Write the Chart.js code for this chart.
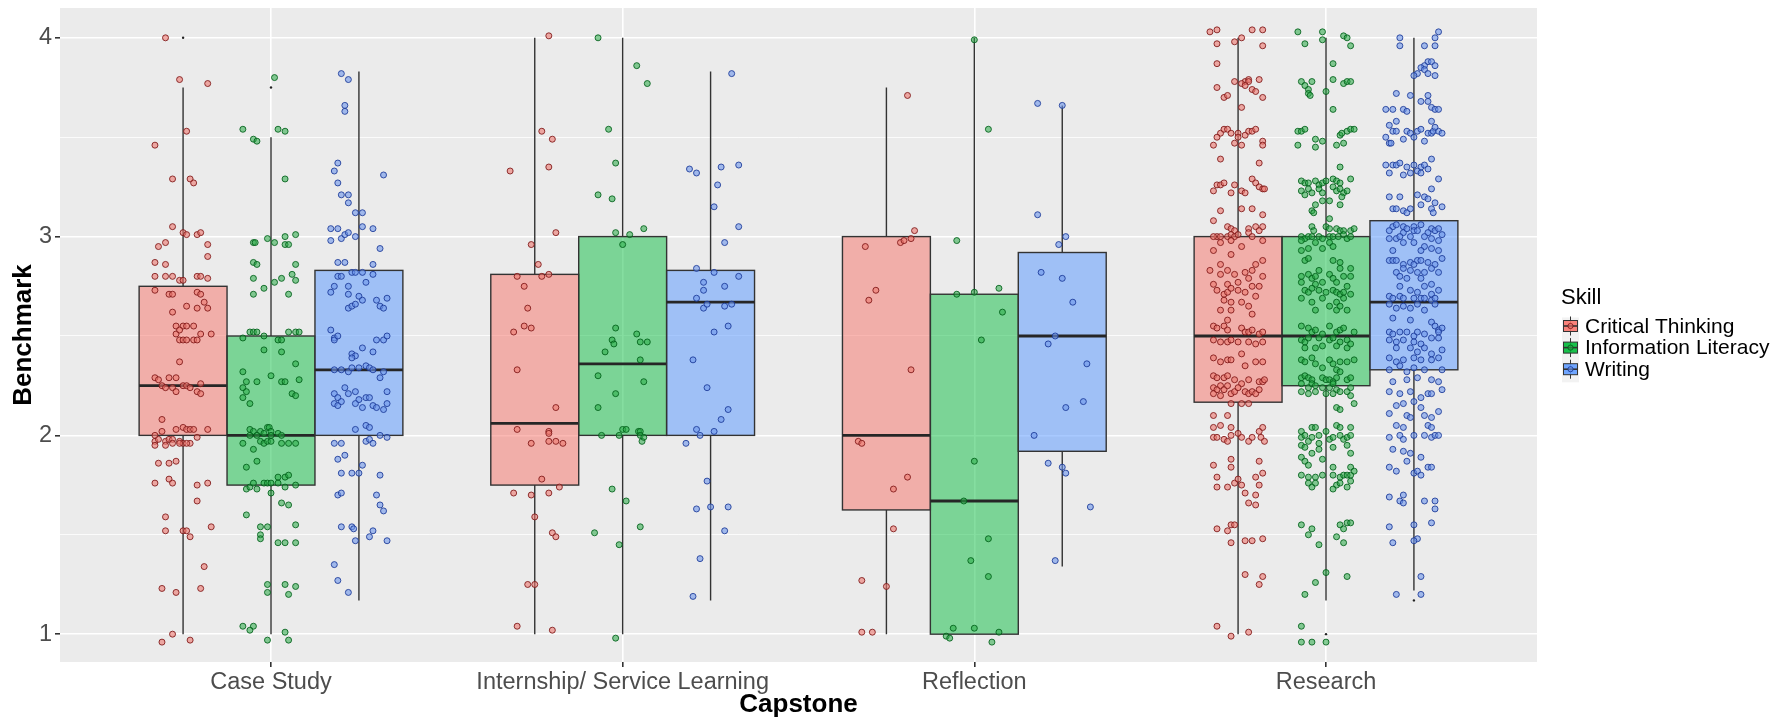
<!DOCTYPE html>
<html>
<head>
<meta charset="utf-8">
<script src="https://cdn.jsdelivr.net/npm/chart.js@4.4.1/dist/chart.umd.min.js"></script>
<style>
  html, body { margin: 0; padding: 0; background: #ffffff; }
  #wrap { width: 1785px; height: 717px; position: relative; }
</style>
</head>
<body>
<div id="wrap"><canvas id="chart" width="1785" height="717"></canvas></div>
<script>
// ---- categories, groups, ticks ----
const categories = ['Case Study', 'Internship/ Service Learning', 'Reflection', 'Research'];
const skills = ['Critical Thinking', 'Information Literacy', 'Writing'];
const yTicks = [1, 2, 3, 4];
const yMinorTicks = [1.5, 2.5, 3.5];

// box summaries per capstone: [lower whisker, Q1, median, Q3, upper whisker]
const ctBox = [[1, 2, 2.25, 2.75, 3.75], [1, 1.75, 2.06, 2.81, 4], [1, 1.625, 2, 3, 3.75], [1, 2.167, 2.5, 3, 4]];
const ilBox = [[1, 1.75, 2, 2.5, 3.5], [1, 2, 2.36, 3, 4], [1, 1, 1.67, 2.71, 4], [1.17, 2.25, 2.5, 3, 4]];
const wrBox = [[1.17, 2, 2.33, 2.83, 3.83], [1.17, 2, 2.67, 2.83, 3.83], [1.34, 1.92, 2.5, 2.92, 3.66], [1.22, 2.33, 2.67, 3.08, 4]];

// boxplot outliers per capstone
const ctOutliers = [[4], [], [], []];
const ilOutliers = [[3.75], [], [], [1]];
const wrOutliers = [[], [], [], [1.17]];

// individual scores: [horizontal jitter, benchmark]
const ctCaseStudy = [[-0.05,4.00],[-0.01,3.79],[0.07,3.77],[0.01,3.53],[-0.08,3.46],[-0.03,3.29],[0.02,3.29],[0.03,3.27],[-0.03,3.05],[0,3.02],[0.01,3.01],[0.04,3.01],[0.05,3.02],[0.07,2.96],[-0.05,2.97],[-0.07,2.95],[0.07,2.90],[-0.08,2.87],[-0.05,2.86],[-0.08,2.80],[-0.05,2.80],[-0.03,2.80],[-0.01,2.78],[0,2.78],[0.04,2.80],[0.05,2.80],[0.07,2.79],[-0.08,2.73],[-0.04,2.71],[-0.03,2.71],[0.04,2.72],[0.05,2.71],[0.06,2.67],[0.01,2.65],[0.04,2.64],[0.07,2.64],[-0.03,2.62],[-0.02,2.55],[0,2.55],[0.01,2.55],[0.03,2.55],[-0.02,2.51],[-0.01,2.53],[0.05,2.51],[0.08,2.51],[-0.01,2.48],[0,2.48],[0.01,2.48],[0.03,2.48],[0.04,2.48],[-0.01,2.37],[-0.08,2.29],[-0.07,2.28],[-0.04,2.29],[-0.02,2.29],[-0.06,2.25],[-0.05,2.24],[-0.03,2.24],[0,2.25],[0.01,2.25],[0.05,2.26],[-0.02,2.22],[0.02,2.24],[0.04,2.22],[0.05,2.21],[-0.06,2.08],[-0.08,2.00],[-0.06,2.02],[-0.02,2.03],[0,2.04],[0.01,2.03],[0.02,2.03],[0.03,2.03],[0.07,2.03],[-0.08,1.97],[-0.07,1.98],[-0.05,1.97],[-0.04,1.98],[-0.03,1.98],[-0.01,1.97],[0,1.96],[0.02,1.96],[0.04,1.99],[-0.08,1.95],[-0.05,1.95],[-0.03,1.96],[-0.01,1.96],[0.01,1.96],[-0.07,1.86],[-0.04,1.86],[-0.02,1.87],[-0.08,1.76],[-0.04,1.78],[-0.03,1.76],[0.04,1.75],[0.07,1.76],[0.04,1.67],[-0.05,1.59],[-0.05,1.52],[0,1.52],[0.01,1.52],[0.02,1.49],[0.08,1.54],[0.06,1.34],[-0.06,1.23],[-0.02,1.21],[0.05,1.23],[-0.03,1.00],[0.02,0.97],[-0.06,0.96]];
const ctInternship = [[0.04,4.01],[0.02,3.53],[0.05,3.49],[-0.07,3.33],[0.04,3.35],[0.06,3.02],[-0.01,2.96],[0.01,2.86],[-0.05,2.80],[0.02,2.80],[0.04,2.81],[-0.03,2.75],[-0.02,2.64],[-0.06,2.52],[-0.03,2.55],[-0.01,2.54],[-0.05,2.33],[0.06,2.14],[-0.05,2.03],[0.04,2.02],[0.04,2.01],[-0.01,1.96],[0.04,1.97],[0.06,1.97],[0.08,1.96],[0.02,1.78],[0.07,1.74],[-0.06,1.71],[-0.01,1.70],[0.04,1.71],[0,1.59],[0.05,1.51],[0.06,1.49],[-0.02,1.25],[0,1.25],[-0.05,1.04],[0.05,1.02]];
const ctReflection = [[0.06,3.71],[0.08,3.03],[0.04,2.97],[0.05,2.98],[0.07,2.99],[-0.06,2.95],[-0.03,2.73],[-0.05,2.68],[0.07,2.33],[-0.08,1.97],[-0.07,1.96],[0.06,1.79],[0.02,1.73],[0.02,1.53],[-0.07,1.27],[0,1.24],[-0.07,1.01],[-0.04,1.01]];
const ctResearch = [[-0.08,4.03],[-0.06,4.04],[0.04,4.04],[0.07,4.04],[-0.06,3.97],[0.07,3.96],[-0.01,3.98],[0.01,4.00],[-0.06,3.87],[-0.06,3.75],[-0.01,3.78],[0.02,3.78],[0.03,3.79],[0.03,3.78],[0.01,3.77],[0.02,3.76],[0.06,3.79],[0.04,3.74],[0.05,3.73],[-0.04,3.70],[-0.03,3.71],[0.07,3.70],[0.01,3.65],[-0.05,3.52],[-0.04,3.54],[-0.03,3.54],[-0.02,3.52],[0,3.52],[0,3.50],[0.02,3.51],[0.03,3.53],[0.04,3.53],[0.05,3.54],[-0.07,3.46],[-0.01,3.47],[0.01,3.46],[0.07,3.48],[0.07,3.46],[-0.06,3.50],[-0.05,3.39],[0.06,3.37],[-0.06,3.26],[-0.05,3.26],[-0.04,3.27],[-0.07,3.23],[-0.01,3.26],[-0.02,3.22],[0.01,3.23],[0.02,3.22],[0.04,3.29],[0.05,3.27],[0.06,3.25],[0.07,3.24],[0.075,3.24],[-0.05,3.13],[0.01,3.14],[0.04,3.14],[-0.07,3.08],[0.07,3.11],[-0.03,3.05],[-0.02,3.04],[-0.01,3.03],[-0.06,3.00],[-0.05,3.00],[-0.03,3.00],[-0.02,3.01],[-0.01,3.00],[0,3.01],[0.03,3.04],[0.05,3.05],[0.06,3.03],[0.07,3.05],[-0.07,3.00],[0.03,3.02],[0.04,3.00],[0.07,2.98],[-0.05,2.97],[-0.02,2.98],[0.01,2.95],[-0.07,2.93],[-0.02,2.91],[-0.05,2.86],[-0.03,2.83],[-0.08,2.83],[-0.05,2.81],[-0.03,2.76],[-0.01,2.81],[0,2.77],[0.02,2.82],[0.03,2.79],[0.04,2.83],[0.07,2.80],[0.07,2.88],[0.05,2.86],[-0.07,2.76],[-0.06,2.73],[-0.04,2.71],[-0.03,2.72],[-0.02,2.74],[0,2.73],[0.02,2.72],[0.04,2.75],[0.05,2.70],[0.06,2.75],[-0.04,2.68],[-0.02,2.67],[-0.05,2.63],[-0.02,2.63],[0.01,2.67],[0.03,2.65],[0.04,2.61],[-0.03,2.58],[-0.07,2.55],[-0.06,2.54],[-0.04,2.55],[-0.03,2.53],[0.01,2.54],[0.02,2.52],[0.03,2.52],[0.04,2.53],[0.06,2.51],[0.07,2.52],[-0.07,2.48],[-0.05,2.47],[-0.03,2.47],[-0.02,2.48],[0,2.47],[0.03,2.47],[0.05,2.46],[0.07,2.47],[0.01,2.41],[-0.07,2.39],[-0.05,2.37],[-0.03,2.38],[-0.02,2.38],[0.02,2.35],[0.05,2.37],[0.07,2.37],[-0.07,2.30],[-0.06,2.29],[-0.04,2.29],[-0.03,2.30],[-0.01,2.28],[0.01,2.26],[0.03,2.28],[0.06,2.27],[0.07,2.27],[0.075,2.28],[-0.07,2.24],[-0.06,2.23],[-0.05,2.25],[-0.04,2.23],[-0.02,2.21],[-0.01,2.22],[0,2.24],[0.02,2.22],[0.03,2.21],[0.04,2.22],[0.05,2.21],[0.06,2.23],[-0.07,2.21],[-0.05,2.20],[-0.03,2.25],[-0.02,2.16],[0.01,2.16],[0.03,2.16],[-0.07,2.10],[-0.03,2.10],[-0.07,2.04],[-0.05,2.05],[-0.02,2.04],[-0.07,1.99],[-0.06,1.99],[-0.04,1.98],[-0.03,1.97],[-0.02,2.00],[0,2.01],[0.01,1.99],[0.03,1.97],[0.04,1.99],[0.06,2.02],[0.07,2.04],[0.065,1.99],[0.075,1.97],[-0.07,1.85],[-0.02,1.88],[-0.02,1.84],[0.06,1.87],[-0.06,1.79],[0.05,1.79],[0.07,1.81],[-0.01,1.76],[0,1.78],[0.01,1.75],[-0.06,1.74],[-0.03,1.74],[0.06,1.75],[0.05,1.70],[0.02,1.71],[0.03,1.66],[0.05,1.65],[-0.06,1.53],[-0.03,1.52],[-0.02,1.55],[-0.01,1.55],[-0.02,1.46],[0.02,1.47],[0.04,1.47],[0.07,1.48],[0.02,1.30],[0.07,1.29],[0.06,1.25],[-0.06,1.04],[-0.02,0.99],[0.03,1.01]];

const ilCaseStudy = [[0.01,3.80],[-0.08,3.54],[0.02,3.54],[0.04,3.53],[-0.05,3.49],[-0.04,3.48],[0.04,3.29],[-0.05,2.97],[-0.045,2.97],[-0.01,2.99],[0.01,2.97],[0.04,3.00],[0.07,3.01],[0.04,2.96],[0.05,2.96],[-0.05,2.87],[-0.04,2.86],[0.07,2.86],[-0.05,2.79],[-0.02,2.74],[0.01,2.77],[0.03,2.79],[0.06,2.81],[0.07,2.78],[-0.05,2.71],[0.05,2.71],[-0.08,2.49],[-0.06,2.52],[-0.05,2.52],[-0.04,2.52],[-0.02,2.50],[0.02,2.48],[0.03,2.48],[0.05,2.52],[0.07,2.52],[0.08,2.52],[-0.02,2.43],[0.03,2.42],[0.07,2.36],[-0.08,2.32],[-0.07,2.27],[-0.04,2.27],[0,2.30],[0.03,2.27],[0.04,2.27],[0.08,2.28],[-0.08,2.24],[-0.07,2.22],[0.06,2.21],[0.07,2.20],[-0.08,2.19],[-0.06,2.16],[-0.06,2.03],[-0.05,2.02],[-0.03,2.02],[-0.01,2.04],[-0.005,2.04],[0,2.02],[-0.06,2.00],[-0.04,2.00],[-0.02,2.01],[0,2.00],[0.02,2.01],[0.03,2.00],[-0.03,1.97],[-0.02,1.96],[-0.01,1.97],[0,1.97],[0.03,1.96],[0.05,1.96],[0.07,1.96],[-0.08,1.96],[-0.05,1.93],[-0.04,1.87],[-0.07,1.84],[0.02,1.79],[0.04,1.79],[0.05,1.80],[-0.07,1.73],[-0.06,1.74],[-0.05,1.76],[-0.02,1.76],[-0.01,1.76],[0,1.76],[0.02,1.76],[0.04,1.74],[0.07,1.75],[-0.04,1.73],[0,1.71],[0.03,1.66],[0.05,1.65],[-0.07,1.60],[-0.03,1.54],[-0.01,1.54],[0.07,1.55],[-0.03,1.50],[-0.03,1.48],[0.02,1.46],[0.04,1.46],[0.07,1.46],[-0.01,1.25],[0.04,1.25],[0.07,1.24],[-0.01,1.21],[0.05,1.20],[-0.08,1.04],[-0.05,1.04],[-0.06,1.02],[0.04,1.01],[-0.01,0.97],[0.05,0.97]];
const ilInternship = [[-0.07,4.00],[0.04,3.86],[0.07,3.77],[-0.04,3.54],[-0.02,3.37],[-0.07,3.21],[-0.03,3.19],[-0.02,3.02],[0.02,3.01],[0.06,3.04],[0,2.96],[-0.02,2.54],[-0.03,2.48],[-0.025,2.46],[0.04,2.51],[0.05,2.47],[0.07,2.47],[-0.05,2.42],[0.05,2.38],[-0.07,2.30],[0.06,2.27],[-0.02,2.21],[-0.07,2.14],[0,2.03],[0.01,2.03],[0.045,2.02],[0.05,2.02],[-0.06,2.00],[-0.01,2.00],[0.05,2.00],[0.055,1.97],[0.06,1.99],[-0.03,1.73],[0.01,1.67],[0.05,1.54],[-0.08,1.51],[-0.01,1.45],[-0.02,0.98]];
const ilReflection = [[0,3.99],[0.04,3.54],[-0.05,2.98],[-0.05,2.71],[0,2.72],[0.07,2.74],[0.08,2.62],[0.02,2.48],[0,1.87],[-0.03,1.67],[0.04,1.48],[-0.01,1.37],[0.04,1.29],[-0.06,1.03],[0,1.03],[0.07,1.01],[-0.08,0.99],[-0.07,0.98],[0.05,0.96]];
const ilResearch = [[-0.08,4.03],[-0.01,4.03],[0.05,4.01],[0.06,4.00],[-0.06,3.97],[-0.01,3.99],[0.07,3.96],[0.02,3.87],[-0.07,3.78],[-0.06,3.76],[-0.05,3.74],[-0.05,3.72],[-0.045,3.71],[-0.04,3.78],[0,3.73],[0.02,3.79],[0.05,3.77],[0.06,3.78],[0.07,3.78],[0.02,3.64],[-0.08,3.53],[-0.07,3.53],[-0.06,3.54],[-0.08,3.46],[-0.03,3.49],[-0.03,3.45],[-0.01,3.48],[0.04,3.51],[0.045,3.52],[0.06,3.53],[0.07,3.54],[0.08,3.54],[0.03,3.46],[0.05,3.47],[0.04,3.35],[-0.07,3.28],[-0.06,3.27],[-0.05,3.27],[-0.03,3.28],[-0.02,3.26],[-0.01,3.27],[0,3.28],[0.02,3.29],[0.03,3.28],[0.04,3.27],[0.07,3.29],[-0.07,3.23],[-0.05,3.24],[-0.04,3.22],[-0.02,3.24],[-0.01,3.22],[0.02,3.25],[0.03,3.23],[0.04,3.24],[0.05,3.22],[0.06,3.23],[-0.06,3.21],[0.045,3.20],[-0.03,3.16],[-0.04,3.13],[-0.01,3.18],[0.01,3.18],[0.04,3.16],[-0.035,3.12],[0.01,3.09],[-0.04,3.05],[-0.035,3.03],[0,3.05],[0.01,3.04],[0.03,3.04],[0.04,3.03],[0.05,3.03],[0.07,3.03],[0.08,3.04],[-0.07,3.00],[-0.06,2.99],[-0.05,3.00],[-0.04,3.00],[-0.02,3.00],[-0.01,2.99],[0.01,3.00],[0.02,3.00],[0.035,3.00],[0.05,3.01],[0.06,2.99],[0.07,3.00],[-0.07,2.98],[-0.03,2.97],[0.01,2.97],[-0.07,2.93],[-0.05,2.94],[-0.01,2.94],[0.02,2.95],[-0.06,2.88],[-0.05,2.89],[0.02,2.88],[0.04,2.87],[-0.02,2.83],[0.04,2.84],[0.07,2.84],[-0.07,2.80],[-0.05,2.81],[-0.04,2.79],[-0.03,2.80],[-0.01,2.77],[0.01,2.81],[0.02,2.79],[0.03,2.77],[0.05,2.80],[0.07,2.80],[-0.07,2.77],[-0.03,2.76],[0.06,2.75],[-0.06,2.73],[-0.05,2.72],[-0.04,2.74],[-0.02,2.73],[0,2.72],[0.02,2.73],[0.03,2.72],[0.04,2.71],[0.05,2.72],[0.07,2.71],[-0.07,2.69],[-0.04,2.67],[-0.01,2.69],[0.03,2.67],[0.05,2.69],[-0.03,2.63],[0.01,2.65],[0.03,2.63],[0.04,2.65],[0.06,2.63],[-0.07,2.55],[-0.05,2.54],[-0.04,2.52],[-0.03,2.53],[0.01,2.55],[0.03,2.52],[0.04,2.53],[0.05,2.54],[0.08,2.52],[-0.07,2.48],[-0.06,2.47],[-0.05,2.49],[-0.02,2.49],[-0.01,2.51],[0.01,2.48],[0.02,2.49],[0.04,2.47],[0.06,2.48],[-0.06,2.44],[-0.03,2.44],[-0.01,2.45],[0.03,2.45],[0.06,2.44],[0.07,2.46],[-0.07,2.38],[-0.06,2.37],[-0.04,2.39],[-0.03,2.36],[0.01,2.38],[0.02,2.36],[0.04,2.37],[0.06,2.37],[0.08,2.38],[-0.01,2.34],[0.03,2.33],[0.04,2.32],[-0.07,2.29],[-0.06,2.30],[-0.05,2.29],[-0.04,2.28],[-0.01,2.29],[0,2.28],[0.01,2.28],[0.02,2.27],[0.03,2.29],[0.06,2.28],[0.07,2.29],[-0.07,2.26],[-0.05,2.24],[-0.04,2.26],[-0.03,2.25],[-0.01,2.24],[0.01,2.24],[0.02,2.26],[0.03,2.23],[-0.07,2.22],[-0.05,2.21],[-0.03,2.22],[0,2.21],[0.02,2.21],[0.04,2.22],[0.06,2.22],[0.07,2.24],[0.07,2.20],[0.08,2.16],[0.03,2.14],[0.04,2.13],[-0.07,2.02],[-0.04,2.04],[-0.03,2.04],[0,2.02],[0.03,2.05],[0.04,2.04],[0.07,2.04],[-0.07,1.99],[-0.06,2.00],[-0.05,1.97],[-0.04,1.99],[-0.02,2.00],[0.01,1.98],[0.02,1.99],[0.04,2.00],[0.05,1.98],[0.06,1.99],[0.07,2.00],[-0.07,1.95],[-0.06,1.94],[-0.02,1.96],[0.02,1.94],[0.06,1.95],[-0.07,1.89],[-0.04,1.91],[-0.02,1.93],[0.07,1.91],[-0.06,1.87],[-0.01,1.88],[-0.05,1.85],[0.02,1.84],[0.07,1.84],[-0.07,1.80],[-0.05,1.79],[-0.03,1.79],[-0.01,1.80],[0.02,1.80],[0.04,1.79],[0.05,1.80],[0.06,1.80],[0.07,1.80],[0.08,1.82],[-0.05,1.76],[-0.04,1.74],[-0.03,1.76],[0.03,1.75],[0.04,1.76],[0.07,1.77],[0.02,1.73],[0.06,1.74],[-0.07,1.55],[-0.04,1.53],[-0.05,1.50],[-0.02,1.45],[0.04,1.55],[0.06,1.56],[0.07,1.56],[0.05,1.53],[0.03,1.49],[0.05,1.46],[0,1.31],[0.06,1.29],[-0.03,1.26],[-0.06,1.20],[-0.07,1.04],[-0.07,0.96],[-0.04,0.96],[0,0.96]];

const wrCaseStudy = [[-0.05,3.82],[-0.03,3.79],[-0.04,3.66],[-0.04,3.63],[-0.06,3.37],[-0.07,3.33],[-0.06,3.27],[-0.05,3.21],[-0.03,3.21],[-0.03,3.17],[-0.01,3.12],[0.01,3.12],[0.07,3.31],[-0.08,3.04],[-0.06,3.04],[-0.08,2.98],[-0.05,2.99],[-0.04,3.01],[-0.03,3.02],[-0.01,3.00],[0.01,3.05],[0.04,3.04],[0.06,2.94],[-0.06,2.87],[-0.04,2.87],[-0.02,2.82],[-0.01,2.82],[0.01,2.82],[0.04,2.86],[-0.06,2.80],[-0.05,2.80],[0.02,2.77],[0.04,2.81],[-0.07,2.75],[-0.08,2.72],[-0.03,2.75],[-0.03,2.71],[0,2.70],[0.05,2.68],[0.08,2.69],[-0.03,2.64],[-0.02,2.65],[-0.01,2.66],[0.01,2.68],[0.06,2.65],[0.07,2.64],[-0.08,2.53],[-0.07,2.49],[-0.07,2.48],[-0.06,2.50],[-0.02,2.41],[-0.01,2.40],[0.01,2.44],[0.04,2.42],[0.05,2.48],[0.07,2.48],[0.08,2.50],[-0.02,2.39],[0,2.34],[0.02,2.35],[0.03,2.34],[-0.07,2.33],[-0.05,2.33],[-0.03,2.32],[-0.02,2.34],[0.04,2.33],[0.06,2.29],[0.07,2.32],[-0.07,2.21],[-0.06,2.19],[-0.04,2.24],[-0.03,2.21],[-0.01,2.22],[0,2.18],[0.02,2.19],[0.03,2.19],[0.08,2.22],[-0.07,2.16],[-0.06,2.15],[-0.05,2.17],[-0.01,2.16],[0.01,2.14],[0.04,2.15],[0.05,2.14],[0.07,2.13],[0.08,2.16],[-0.01,2.03],[0.02,2.05],[0.03,2.04],[0.06,2.00],[0.08,1.99],[-0.07,1.96],[-0.05,1.96],[0.02,1.97],[0.03,1.98],[0.04,1.96],[-0.04,1.90],[-0.06,1.88],[-0.05,1.81],[-0.02,1.81],[0,1.81],[0.01,1.85],[0.06,1.80],[-0.06,1.70],[-0.05,1.71],[0.05,1.70],[0.06,1.65],[0.07,1.62],[-0.05,1.54],[-0.02,1.54],[-0.015,1.53],[-0.01,1.47],[0.03,1.49],[0.04,1.52],[0.08,1.47],[-0.07,1.35],[-0.06,1.27],[-0.03,1.21]];
const wrInternship = [[0.06,3.82],[-0.06,3.34],[-0.04,3.32],[0.03,3.35],[0.08,3.36],[0.02,3.26],[0.01,3.15],[0.08,3.05],[0.04,2.97],[-0.04,2.84],[0.01,2.82],[0.08,2.80],[-0.02,2.77],[0.04,2.75],[-0.02,2.73],[-0.04,2.69],[-0.02,2.64],[-0.01,2.66],[0.04,2.65],[0.06,2.66],[0.01,2.52],[0.05,2.55],[-0.05,2.38],[-0.01,2.24],[0.05,2.13],[0.03,2.08],[-0.04,2.03],[0.01,2.02],[-0.03,2.00],[-0.07,1.96],[-0.01,1.77],[-0.04,1.63],[0,1.64],[0.05,1.64],[0.04,1.52],[-0.03,1.38],[-0.05,1.19]];
const wrReflection = [[-0.07,3.67],[0,3.66],[-0.07,3.11],[-0.01,2.96],[0.01,3.00],[-0.06,2.82],[0,2.79],[0.03,2.67],[-0.02,2.50],[-0.04,2.46],[0.07,2.36],[0.01,2.14],[0.06,2.17],[-0.08,2.00],[-0.04,1.86],[0,1.84],[0.01,1.81],[0.08,1.64],[-0.02,1.37]];
const wrResearch = [[-0.04,4.00],[0.06,4.00],[0.07,4.03],[-0.04,3.96],[0.03,3.96],[0.06,3.96],[0.04,3.88],[0.03,3.86],[0.05,3.88],[0.02,3.85],[0.03,3.84],[0.01,3.82],[0,3.81],[0.04,3.82],[0.06,3.81],[0.06,3.86],[-0.05,3.72],[-0.01,3.71],[0.04,3.71],[0.02,3.68],[0.04,3.68],[0.05,3.65],[0.06,3.64],[0.07,3.64],[-0.08,3.64],[-0.06,3.64],[-0.03,3.64],[-0.02,3.63],[-0.05,3.58],[-0.07,3.56],[-0.06,3.53],[-0.05,3.53],[-0.08,3.50],[-0.07,3.47],[-0.065,3.47],[-0.02,3.53],[-0.01,3.52],[0.01,3.53],[0.02,3.54],[0.04,3.52],[0.05,3.52],[0.055,3.53],[0.07,3.53],[0.08,3.52],[-0.03,3.49],[0,3.50],[0.03,3.48],[0.05,3.58],[0.06,3.55],[0.05,3.39],[-0.08,3.36],[-0.06,3.36],[-0.05,3.36],[-0.04,3.37],[-0.02,3.35],[0,3.36],[0.02,3.35],[0.03,3.36],[0.04,3.34],[-0.07,3.32],[-0.03,3.31],[-0.01,3.32],[0.01,3.33],[0.02,3.32],[0.07,3.29],[0.05,3.24],[-0.07,3.20],[-0.04,3.20],[0.01,3.21],[0.03,3.20],[0.04,3.19],[0.06,3.17],[0.08,3.15],[-0.06,3.14],[-0.05,3.14],[-0.03,3.13],[-0.02,3.12],[-0.01,3.14],[0.02,3.16],[0.05,3.14],[0.055,3.12],[-0.06,3.05],[-0.05,3.06],[-0.03,3.05],[0,3.05],[0.02,3.06],[0.05,3.04],[-0.07,3.03],[-0.03,3.02],[-0.02,3.04],[0,3.03],[0.01,3.03],[0.04,3.02],[0.06,3.03],[0.07,3.04],[-0.07,2.99],[-0.05,2.99],[-0.04,3.00],[-0.01,3.00],[0.03,3.00],[0.05,2.99],[0.07,2.98],[0.08,3.01],[-0.03,2.97],[0,2.97],[0.03,2.95],[0.05,2.94],[-0.06,2.93],[0.02,2.93],[0.07,2.93],[-0.07,2.88],[-0.06,2.88],[-0.05,2.88],[-0.03,2.86],[-0.01,2.87],[0,2.86],[0.01,2.88],[0.02,2.88],[0.04,2.87],[0.06,2.86],[0.08,2.89],[-0.05,2.82],[-0.03,2.84],[-0.01,2.83],[0.01,2.82],[0.03,2.82],[0.05,2.84],[0.07,2.82],[-0.04,2.80],[-0.02,2.79],[0.02,2.79],[0.05,2.76],[-0.04,2.75],[-0.01,2.73],[0.01,2.72],[0.03,2.75],[0.05,2.71],[0.07,2.73],[-0.07,2.70],[-0.06,2.69],[-0.04,2.70],[-0.03,2.69],[0,2.69],[0.02,2.69],[0.03,2.69],[0.05,2.68],[0.06,2.69],[-0.07,2.66],[-0.05,2.64],[-0.03,2.65],[-0.01,2.64],[0.01,2.66],[0.03,2.63],[0.06,2.66],[-0.06,2.59],[-0.01,2.58],[0.05,2.57],[0.06,2.55],[0.07,2.53],[0.08,2.54],[-0.07,2.52],[-0.06,2.51],[-0.04,2.52],[-0.02,2.52],[0,2.50],[0.01,2.52],[0.03,2.51],[0.05,2.49],[0.07,2.52],[-0.07,2.48],[-0.05,2.47],[-0.03,2.48],[0,2.47],[0.02,2.46],[0.07,2.49],[-0.05,2.44],[-0.01,2.44],[0.01,2.42],[0.03,2.44],[0.05,2.41],[0.08,2.43],[-0.07,2.39],[-0.05,2.37],[-0.03,2.38],[0,2.39],[0.02,2.38],[0.05,2.38],[0.07,2.39],[-0.04,2.35],[0,2.34],[0.03,2.33],[0.08,2.33],[-0.07,2.33],[-0.02,2.32],[-0.06,2.27],[-0.02,2.28],[0.01,2.29],[0.05,2.28],[0.07,2.27],[-0.07,2.22],[-0.04,2.21],[-0.01,2.22],[0.02,2.19],[0.04,2.21],[0.05,2.21],[0.08,2.23],[-0.05,2.15],[-0.03,2.16],[0,2.17],[0.02,2.14],[-0.07,2.11],[-0.02,2.10],[-0.01,2.09],[0.03,2.10],[0.05,2.09],[0.07,2.12],[-0.05,2.05],[-0.03,2.04],[0,2.00],[0.04,2.05],[0.05,2.04],[-0.07,1.99],[-0.04,2.00],[-0.03,1.98],[0.03,2.00],[0.05,1.99],[0.06,2.00],[0.07,2.00],[-0.06,1.93],[-0.03,1.92],[-0.01,1.91],[0.02,1.89],[-0.02,1.87],[-0.07,1.84],[-0.05,1.82],[0,1.81],[0.01,1.82],[0.04,1.84],[0.05,1.84],[0.02,1.80],[-0.07,1.69],[-0.04,1.67],[-0.03,1.70],[-0.03,1.66],[0.03,1.67],[0.06,1.67],[0.06,1.63],[-0.07,1.54],[-0.06,1.46],[0,1.55],[0.01,1.48],[0,1.47],[0.05,1.56],[0.02,1.29],[-0.05,1.20],[0.02,1.20]];

// ---- styling ----
const boxFill   = ['rgba(248,118,109,0.52)', 'rgba(0,186,56,0.48)', 'rgba(97,156,255,0.55)'];
const pointFill = ['rgba(236,120,112,0.6)', 'rgba(40,170,70,0.55)', 'rgba(110,150,235,0.6)'];
const pointEdge = ['rgba(125,20,20,0.85)', 'rgba(0,95,25,0.85)', 'rgba(25,55,150,0.85)'];
const dodge = 0.25;           // width of each box in category units
const fontFamily = '"Liberation Sans", Arial, Helvetica, sans-serif';

const boxSets = [ctBox, ilBox, wrBox];
const outlierSets = [ctOutliers, ilOutliers, wrOutliers];
const jitterSets = [
  [ctCaseStudy, ctInternship, ctReflection, ctResearch],
  [ilCaseStudy, ilInternship, ilReflection, ilResearch],
  [wrCaseStudy, wrInternship, wrReflection, wrResearch]
];

const centerOf = (ci, si) => ci + 1 + (si - 1) * dodge;

const pointDatasets = jitterSets.map((groups, si) => ({
  label: skills[si],
  type: 'scatter',
  data: groups.flatMap((pts, ci) => pts.map(([dx, v]) => ({ x: centerOf(ci, si) + dx, y: v }))),
  backgroundColor: pointFill[si],
  borderColor: pointEdge[si],
  borderWidth: 1,
  pointRadius: 3,
  pointHoverRadius: 3
}));

const outlierDataset = {
  label: 'outliers',
  type: 'scatter',
  data: outlierSets.flatMap((groups, si) => groups.flatMap((vals, ci) => vals.map(v => ({ x: centerOf(ci, si), y: v })))),
  backgroundColor: '#222',
  borderColor: '#222',
  borderWidth: 0,
  pointRadius: 1.2
};

// panel background
const panelPlugin = {
  id: 'panel',
  beforeDraw(chart) {
    const { ctx, chartArea: a } = chart;
    ctx.save();
    ctx.fillStyle = '#EBEBEB';
    ctx.fillRect(a.left, a.top, a.right - a.left, a.bottom - a.top);
    ctx.restore();
  }
};

// whiskers, boxes and medians
const boxPlugin = {
  id: 'boxes',
  beforeDatasetsDraw(chart) {
    const { ctx, scales: { x, y } } = chart;
    boxSets.forEach((boxes, si) => {
      boxes.forEach((b, ci) => {
        const c = centerOf(ci, si);
        const xl = x.getPixelForValue(c - dodge / 2);
        const xr = x.getPixelForValue(c + dodge / 2);
        const xm = x.getPixelForValue(c);
        const [lo, q1, med, q3, hi] = b.map(v => y.getPixelForValue(v));
        ctx.save();
        ctx.strokeStyle = '#333333';
        ctx.lineWidth = 1.4;
        ctx.beginPath();
        ctx.moveTo(xm, hi); ctx.lineTo(xm, q3);
        ctx.moveTo(xm, q1); ctx.lineTo(xm, lo);
        ctx.stroke();
        ctx.fillStyle = boxFill[si];
        ctx.fillRect(xl, q3, xr - xl, q1 - q3);
        ctx.strokeRect(xl, q3, xr - xl, q1 - q3);
        ctx.lineWidth = 2.8;
        ctx.strokeStyle = '#262626';
        ctx.beginPath();
        ctx.moveTo(xl, med); ctx.lineTo(xr, med);
        ctx.stroke();
        ctx.restore();
      });
    });
  }
};

// "Skill" legend with boxplot keys
const legendPlugin = {
  id: 'skillLegend',
  afterDraw(chart) {
    const { ctx, chartArea: a } = chart;
    const left = a.right + 24;
    const titleY = a.top + 290;
    const rowH = 21.6;
    const key = 17;
    ctx.save();
    ctx.fillStyle = '#000';
    ctx.font = '22px ' + fontFamily;
    ctx.textBaseline = 'middle';
    ctx.textAlign = 'left';
    ctx.fillText('Skill', left, titleY);
    skills.forEach((s, i) => {
      const cy = titleY + 28 + i * rowH;
      const kx = left + 1, ky = cy - key / 2;
      ctx.fillStyle = '#F2F2F2';
      ctx.fillRect(kx, ky, key, rowH);
      ctx.strokeStyle = '#333';
      ctx.lineWidth = 1;
      ctx.beginPath();
      ctx.moveTo(kx + key / 2, ky - 1); ctx.lineTo(kx + key / 2, ky + key + 1);
      ctx.stroke();
      ctx.fillStyle = boxFill[i].replace(/0\.\d+\)$/, '0.9)');
      ctx.fillRect(kx + 1.5, cy - 5.5, key - 3, 11);
      ctx.strokeRect(kx + 1.5, cy - 5.5, key - 3, 11);
      ctx.lineWidth = 1.6;
      ctx.beginPath();
      ctx.moveTo(kx + 1.5, cy); ctx.lineTo(kx + key - 1.5, cy);
      ctx.stroke();
      ctx.beginPath();
      ctx.arc(kx + key / 2, cy, 2.6, 0, Math.PI * 2);
      ctx.fillStyle = pointFill[i];
      ctx.fill();
      ctx.strokeStyle = pointEdge[i];
      ctx.lineWidth = 1;
      ctx.stroke();
      ctx.fillStyle = '#000';
      ctx.font = '21px ' + fontFamily;
      ctx.fillText(s, left + 24, cy + 1);
    });
    ctx.restore();
  }
};

new Chart(document.getElementById('chart'), {
  type: 'scatter',
  data: { datasets: [...pointDatasets, outlierDataset] },
  options: {
    responsive: false,
    animation: false,
    devicePixelRatio: 1,
    events: [],
    layout: { padding: { left: 0, top: 8, right: 248, bottom: 0 } },
    plugins: { legend: { display: false }, tooltip: { enabled: false } },
    scales: {
      x: {
        type: 'linear',
        min: 0.4,
        max: 4.6,
        afterBuildTicks: ax => { ax.ticks = categories.map((c, i) => ({ value: i + 1 })); },
        afterFit: ax => { ax.height = 55; ax.paddingLeft = 0; ax.paddingRight = 0; },
        ticks: {
          autoSkip: false,
          maxRotation: 0,
          minRotation: 0,
          padding: 1,
          color: '#4D4D4D',
          font: { family: fontFamily, size: 23.5 },
          callback: v => categories[Math.round(v) - 1]
        },
        grid: { color: '#FFFFFF', lineWidth: 1.6, tickColor: '#333333', tickLength: 5, drawTicks: true },
        border: { display: false },
        title: {
          display: true,
          text: 'Capstone',
          color: '#000',
          font: { family: fontFamily, size: 26, weight: 'bold', lineHeight: 0.9 },
          padding: { top: 0, bottom: 0 }
        }
      },
      y: {
        type: 'linear',
        min: 0.86,
        max: 4.15,
        afterBuildTicks: ax => {
          ax.ticks = [...yTicks, ...yMinorTicks].sort((p, q) => p - q).map(v => ({ value: v }));
        },
        afterFit: ax => { ax.width = 60; ax.paddingTop = 0; ax.paddingBottom = 0; },
        ticks: {
          autoSkip: false,
          padding: 3,
          color: '#4D4D4D',
          font: { family: fontFamily, size: 23.5 },
          callback: v => (yTicks.includes(v) ? String(v) : '')
        },
        grid: {
          color: '#FFFFFF',
          lineWidth: c => (yTicks.includes(c.tick && c.tick.value) ? 1.6 : 0.8),
          tickColor: c => (yTicks.includes(c.tick && c.tick.value) ? '#333333' : 'rgba(0,0,0,0)'),
          tickLength: 5,
          drawTicks: true
        },
        border: { display: false },
        title: {
          display: true,
          text: 'Benchmark',
          color: '#000',
          font: { family: fontFamily, size: 26, weight: 'bold' },
          padding: { top: 8, bottom: 0 }
        }
      }
    }
  },
  plugins: [panelPlugin, boxPlugin, legendPlugin]
});
</script>
</body>
</html>
